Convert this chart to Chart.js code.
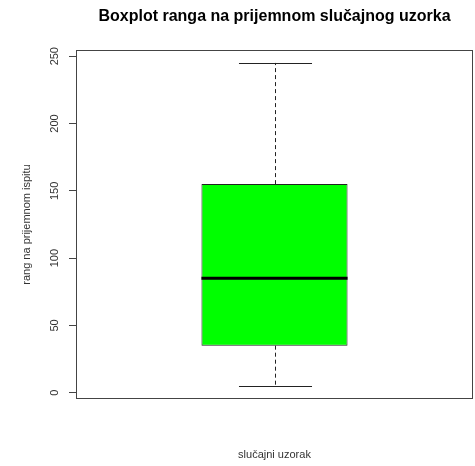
<!DOCTYPE html>
<html>
<head>
<meta charset="utf-8">
<script src="https://cdn.jsdelivr.net/npm/chart.js@4"></script>
<style>
  html, body { margin: 0; padding: 0; background: #fff; }
  #wrap { width: 475px; height: 466px; }
</style>
</head>
<body>
<div id="wrap"><canvas id="boxChart"></canvas></div>
<script>
// rangovi na prijemnom ispitu - slucajni uzorak
var categories = ['slučajni uzorak'];
var whiskerLow = [5];
var quartile1 = [35];
var medians = [85];
var quartile3 = [155];
var whiskerHigh = [245];
var yTicks = [0, 50, 100, 150, 200, 250];

// brkovi, medijan i okvir oko grafa
var boxExtras = {
  id: 'boxExtras',
  afterDatasetsDraw: function(chart) {
    var ctx = chart.ctx;
    var y = chart.scales.y;
    var meta = chart.getDatasetMeta(0);
    ctx.save();
    meta.data.forEach(function(bar, i) {
      var x = Math.round(bar.x) + 0.5;
      var half = bar.width / 2;
      var cap = half / 2;
      var yLo = y.getPixelForValue(whiskerLow[i]);
      var yQ1 = y.getPixelForValue(quartile1[i]);
      var yMed = y.getPixelForValue(medians[i]);
      var yQ3 = y.getPixelForValue(quartile3[i]);
      var yHi = y.getPixelForValue(whiskerHigh[i]);

      ctx.strokeStyle = '#222';
      ctx.lineWidth = 1;
      ctx.setLineDash([4, 3]);
      ctx.beginPath();
      ctx.moveTo(x, yQ3); ctx.lineTo(x, yHi);
      ctx.moveTo(x, yQ1); ctx.lineTo(x, yLo);
      ctx.stroke();

      ctx.setLineDash([]);
      ctx.beginPath();
      ctx.moveTo(x - cap, Math.round(yHi) + 0.5); ctx.lineTo(x + cap, Math.round(yHi) + 0.5);
      ctx.moveTo(x - cap, Math.round(yLo) + 0.5); ctx.lineTo(x + cap, Math.round(yLo) + 0.5);
      ctx.stroke();

      ctx.strokeStyle = '#000';
      ctx.lineWidth = 3;
      ctx.beginPath();
      ctx.moveTo(bar.x - half, yMed); ctx.lineTo(bar.x + half, yMed);
      ctx.stroke();
    });
    var a = chart.chartArea;
    ctx.strokeStyle = '#444';
    ctx.lineWidth = 1;
    ctx.strokeRect(a.left + 0.5, a.top + 0.5, a.right - a.left - 1, a.bottom - a.top - 1);
    ctx.restore();
  }
};

var ctx = document.getElementById('boxChart').getContext('2d');
new Chart(ctx, {
  type: 'bar',
  data: {
    labels: categories,
    datasets: [{
      label: 'rang',
      data: quartile1.map(function(q, i) { return [q, quartile3[i]]; }),
      backgroundColor: '#00ff00',
      borderColor: '#222',
      borderWidth: 1,
      borderSkipped: false,
      categoryPercentage: 1,
      barPercentage: 0.368
    }]
  },
  options: {
    responsive: true,
    maintainAspectRatio: false,
    animation: false,
    layout: { padding: { left: 0, right: 2, top: 0, bottom: 0 } },
    plugins: {
      legend: { display: false },
      tooltip: { enabled: false },
      title: {
        display: true,
        fullSize: false,
        text: 'Boxplot ranga na prijemnom slučajnog uzorka',
        color: '#000',
        font: { family: 'Liberation Sans', size: 16, weight: 'bold' },
        padding: { top: 7.4, bottom: 23.4 }
      }
    },
    scales: {
      x: {
        grid: { display: false },
        border: { display: false },
        ticks: { display: false },
        title: {
          display: true,
          text: 'slučajni uzorak',
          color: '#333',
          font: { family: 'Liberation Sans', size: 11 },
          padding: { top: 0, bottom: 4 }
        },
        afterFit: function(scale) { scale.height = 67; }
      },
      y: {
        min: -4.6,
        max: 254.6,
        afterBuildTicks: function(scale) {
          scale.ticks = yTicks.map(function(v) { return { value: v }; });
        },
        grid: { drawOnChartArea: false, drawTicks: true, tickLength: 7, color: '#444' },
        border: { display: false },
        ticks: {
          minRotation: 90,
          maxRotation: 90,
          crossAlign: 'center',
          padding: 5,
          color: '#333',
          font: { family: 'Liberation Sans', size: 11 }
        },
        title: {
          display: true,
          text: 'rang na prijemnom ispitu',
          color: '#333',
          font: { family: 'Liberation Sans', size: 11 },
          padding: { top: 20.4, bottom: 0 }
        },
        afterFit: function(scale) { scale.width = 76; }
      }
    }
  },
  plugins: [boxExtras]
});
</script>
</body>
</html>
